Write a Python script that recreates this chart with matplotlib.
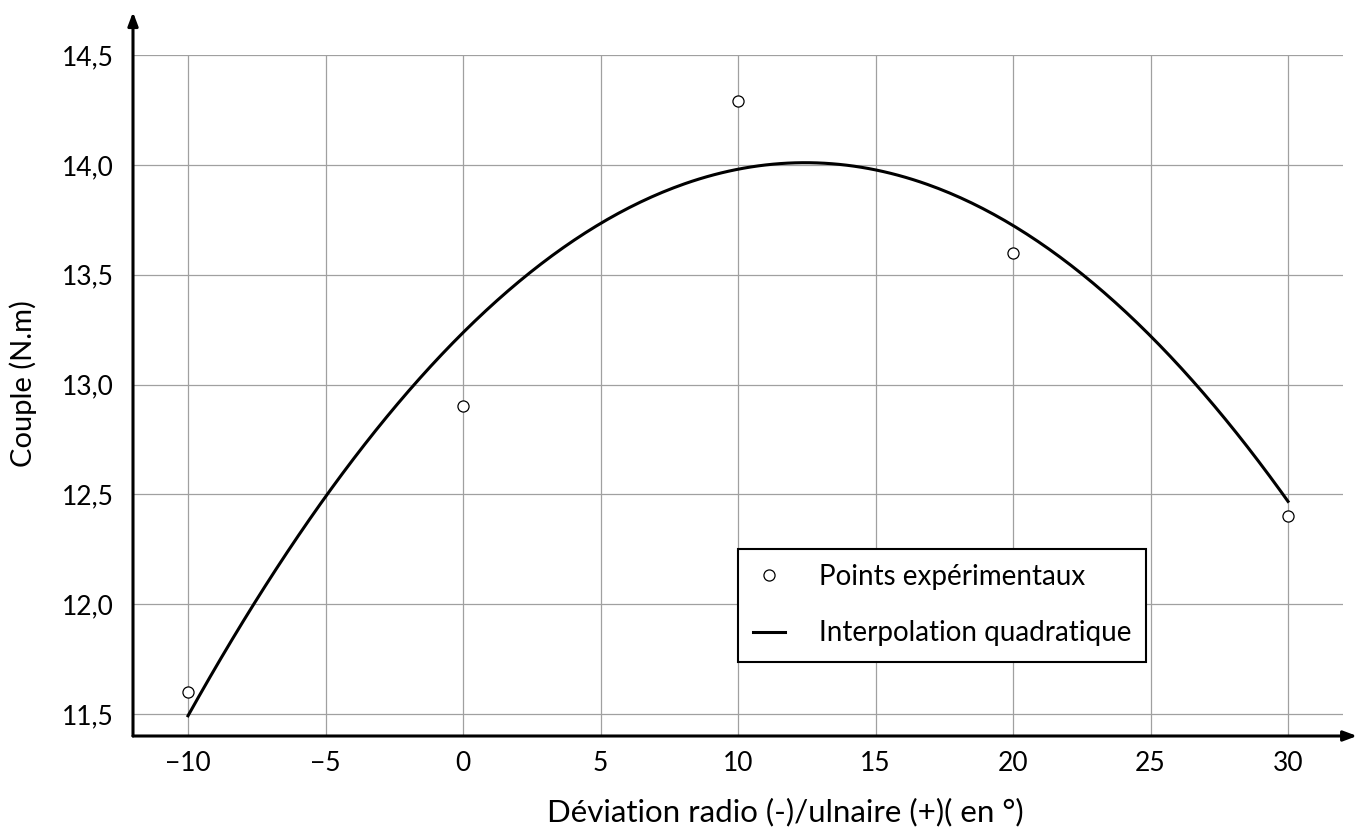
import numpy as np
import matplotlib
matplotlib.use("Agg")
import matplotlib.pyplot as plt

plt.rcParams['font.family'] = ['Lato', 'DejaVu Sans']

# experimental points
deviation = [-10, 0, 10, 20, 30]
couple = [11.6, 12.9, 14.29, 13.6, 12.4]

# quadratic curve coefficients (a*x^2 + b*x + c)
quad_coefs = [-0.005, 0.1244, 13.236]

x_ticks = [-10, -5, 0, 5, 10, 15, 20, 25, 30]
y_ticks = [11.5, 12.0, 12.5, 13.0, 13.5, 14.0, 14.5]

fig = plt.figure(figsize=(13.57, 8.36), dpi=100)
ax = fig.add_axes([133 / 1357, 1 - 736 / 836, 1210 / 1357, 681 / 836])

xs = np.linspace(deviation[0], deviation[-1], 300)
ax.plot(xs, np.polyval(quad_coefs, xs), color='black', lw=2.2,
        label='Interpolation quadratique', zorder=3)
ax.plot(deviation, couple, 'o', mfc='white', mec='black', ms=8, mew=0.9,
        label='Points expérimentaux', zorder=4)

ax.set_xlim(-12, 32)
ax.set_ylim(11.4, 14.5)
ax.set_xticks(x_ticks)
ax.set_yticks(y_ticks)
ax.set_xticklabels([str(v).replace('-', '\u2212') for v in x_ticks])
ax.set_yticklabels([f"{v:.1f}".replace('.', ',') for v in y_ticks])
ax.tick_params(length=0, labelsize=19)
ax.tick_params(axis='x', pad=11)
ax.tick_params(axis='y', pad=14)
ax.grid(True, color='#a0a0a0', lw=0.9)
ax.set_axisbelow(True)

for s in ax.spines.values():
    s.set_visible(False)

# axis lines with arrows
arrow = dict(arrowstyle='-|>,head_length=0.8,head_width=0.3', color='black', lw=2.2,
             shrinkA=0, shrinkB=0)
ax.annotate('', xy=(0, 1.063), xytext=(0, 0), xycoords='axes fraction',
            textcoords='axes fraction', arrowprops=arrow, annotation_clip=False)
ax.annotate('', xy=(1.0116, 0), xytext=(0, 0), xycoords='axes fraction',
            textcoords='axes fraction', arrowprops=arrow, annotation_clip=False)

ax.set_xlabel('Déviation radio (-)/ulnaire (+)( en °)', fontsize=22.5)
ax.xaxis.set_label_coords(0.539, -0.09)
ax.set_ylabel('Couple (N.m)', fontsize=21)
ax.yaxis.set_label_coords(-0.079, 0.517)

handles, labels = ax.get_legend_handles_labels()
leg = ax.legend(handles[::-1], labels[::-1], loc='lower left',
                bbox_to_anchor=(0.5, 0.109), borderaxespad=0, fontsize=20,
                fancybox=False, framealpha=1, edgecolor='black',
                handlelength=1.15, handletextpad=1.2, borderpad=0.55,
                labelspacing=1.1)
leg.get_frame().set_linewidth(1.5)

fig.savefig('out.png', dpi=100)
